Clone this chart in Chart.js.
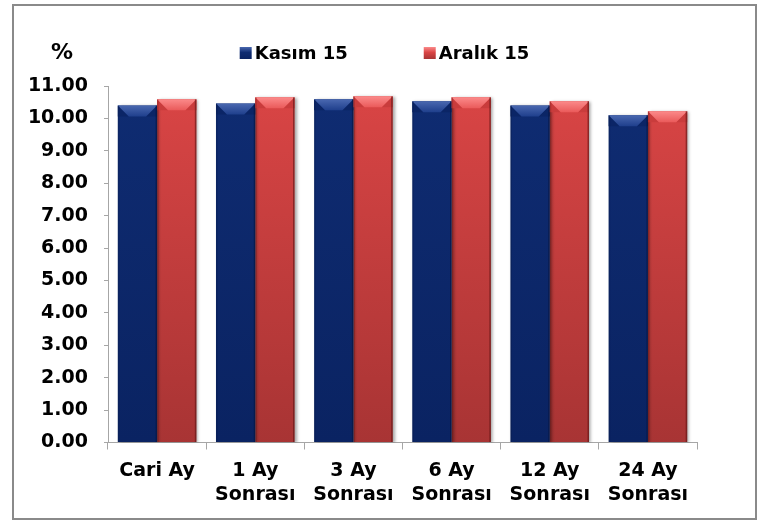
<!DOCTYPE html>
<html>
<head>
<meta charset="utf-8">
<script src="https://cdn.jsdelivr.net/npm/chart.js@4/dist/chart.umd.min.js"></script>
<style>
  html, body { margin: 0; padding: 0; background: #fff; }
  #wrap { position: relative; width: 767px; height: 522px; }
  #frame { position: absolute; left: 12px; top: 4px; width: 741px; height: 512px; border: 2px solid #8a8a8a; pointer-events: none; }
  canvas { position: absolute; left: 0; top: 0; }
</style>
</head>
<body>
<div id="wrap">
  <canvas id="myChart" width="767" height="522"></canvas>
  <div id="frame"></div>
</div>
<script>
// data
const categories = [
  "Cari Ay",
  ["1 Ay", "Sonrası"],
  ["3 Ay", "Sonrası"],
  ["6 Ay", "Sonrası"],
  ["12 Ay", "Sonrası"],
  ["24 Ay", "Sonrası"],
];
const seriesNames = ["Kasım 15", "Aralık 15"];
const kasim = [10.40, 10.46, 10.59, 10.53, 10.40, 10.10];
const aralik = [10.59, 10.65, 10.68, 10.65, 10.53, 10.22];
const yTicks = [0, 1, 2, 3, 4, 5, 6, 7, 8, 9, 10, 11];
const unitLabel = "%";

const FONT = "'DejaVu Sans', Verdana, sans-serif";

const palette = [
  { top: "#0f2c72", bottom: "#0a2362", face: "#4a68b0", faceEnd: "#1f3f8c", side: "#0b2566", edge: "#061640" },
  { top: "#da4545", bottom: "#a83434", face: "#fb8a8a", faceEnd: "#ea5a5a", side: "#c93c3c", edge: "#5e1414" },
];

function bodyGradient(idx) {
  return function (context) {
    const chart = context.chart;
    const area = chart.chartArea;
    if (!area) return palette[idx].top;
    const g = chart.ctx.createLinearGradient(0, area.top, 0, area.bottom);
    g.addColorStop(0, palette[idx].top);
    g.addColorStop(1, palette[idx].bottom);
    return g;
  };
}

// bevel look on top of each bar
const bevelPlugin = {
  id: "bevel",
  beforeDatasetsDraw(chart) {
    const ctx = chart.ctx;
    ctx.save();
    ctx.shadowColor = "rgba(0,0,0,0.35)";
    ctx.shadowBlur = 3;
    ctx.shadowOffsetX = 2;
    ctx.shadowOffsetY = 1;
  },
  afterDatasetsDraw(chart) {
    const ctx = chart.ctx;
    ctx.restore();
    chart.data.datasets.forEach(function (ds, i) {
      const meta = chart.getDatasetMeta(i);
      const col = palette[i];
      meta.data.forEach(function (bar) {
        const p = bar.getProps(["x", "y", "base", "width"], true);
        const left = p.x - p.width / 2;
        const right = p.x + p.width / 2;
        const b = Math.min(11, p.width / 3);
        ctx.save();
        // side triangles
        ctx.fillStyle = col.side;
        ctx.beginPath();
        ctx.moveTo(left, p.y);
        ctx.lineTo(left + b, p.y + b);
        ctx.lineTo(left, p.y + b);
        ctx.closePath();
        ctx.fill();
        ctx.beginPath();
        ctx.moveTo(right, p.y);
        ctx.lineTo(right - b, p.y + b);
        ctx.lineTo(right, p.y + b);
        ctx.closePath();
        ctx.fill();
        // top face
        const g = ctx.createLinearGradient(0, p.y, 0, p.y + b);
        g.addColorStop(0, col.face);
        g.addColorStop(1, col.faceEnd);
        ctx.fillStyle = g;
        ctx.beginPath();
        ctx.moveTo(left, p.y);
        ctx.lineTo(right, p.y);
        ctx.lineTo(right - b, p.y + b);
        ctx.lineTo(left + b, p.y + b);
        ctx.closePath();
        ctx.fill();
        // edges
        ctx.fillStyle = col.edge;
        ctx.globalAlpha = 0.6;
        ctx.fillRect(right - 1.5, p.y, 1.5, p.base - p.y);
        ctx.globalAlpha = 0.25;
        ctx.fillRect(left, p.y, 1.5, p.base - p.y);
        ctx.restore();
      });
    });
  },
};

// legend and the % label above the axis
const legendPlugin = {
  id: "customLegend",
  afterDraw(chart) {
    const ctx = chart.ctx;
    const area = chart.chartArea;
    const y = 53;
    ctx.save();
    ctx.font = "bold 22px " + FONT;
    ctx.fillStyle = "#000";
    ctx.textBaseline = "middle";
    ctx.textAlign = "center";
    ctx.fillText(unitLabel, 62, y);

    ctx.font = "bold 18px " + FONT;
    ctx.textAlign = "left";
    const box = 12, gapText = 3, gapItem = 76;
    const widths = seriesNames.map(function (n) { return box + gapText + ctx.measureText(n).width; });
    const total = widths.reduce(function (a, w) { return a + w; }, 0) + gapItem * (seriesNames.length - 1);
    let x = (area.left + area.right) / 2 - 18 - total / 2;
    seriesNames.forEach(function (name, i) {
      const col = palette[i];
      const g = ctx.createLinearGradient(0, y - box / 2, 0, y + box / 2);
      g.addColorStop(0, col.face);
      g.addColorStop(0.45, col.top);
      g.addColorStop(1, col.bottom);
      ctx.fillStyle = g;
      ctx.fillRect(x, y - box / 2, box, box);
      ctx.fillStyle = "#000";
      ctx.fillText(name, x + box + gapText, y + 1);
      x += widths[i] + gapItem;
    });
    ctx.restore();
  },
};

const ctx = document.getElementById("myChart");

new Chart(ctx, {
  type: "bar",
  data: {
    labels: categories,
    datasets: [
      {
        label: seriesNames[0],
        data: kasim,
        backgroundColor: bodyGradient(0),
        borderWidth: 0,
      },
      {
        label: seriesNames[1],
        data: aralik,
        backgroundColor: bodyGradient(1),
        borderWidth: 0,
      },
    ],
  },
  options: {
    responsive: false,
    animation: false,
    devicePixelRatio: 1,
    layout: {
      padding: { left: 20, right: 70, top: 86, bottom: 15 },
    },
    datasets: {
      bar: { categoryPercentage: 0.8, barPercentage: 1.0 },
    },
    plugins: {
      legend: { display: false },
      tooltip: { enabled: false },
    },
    scales: {
      x: {
        grid: {
          offset: true,
          drawOnChartArea: false,
          drawTicks: true,
          tickLength: 7,
          color: "#a6a6a6",
        },
        border: { color: "#a6a6a6", width: 1 },
        ticks: {
          padding: 10,
          color: "#000",
          font: { family: FONT, size: 19, weight: "bold", lineHeight: 1.25 },
          maxRotation: 0,
          autoSkip: false,
        },
        afterFit(scale) { scale.height = 64.5; },
      },
      y: {
        min: yTicks[0],
        max: yTicks[yTicks.length - 1],
        afterBuildTicks(scale) {
          scale.ticks = yTicks.map(function (v) { return { value: v }; });
        },
        grid: {
          drawOnChartArea: false,
          drawTicks: true,
          tickLength: 4,
          color: "#a6a6a6",
        },
        border: { color: "#a6a6a6", width: 1 },
        ticks: {
          padding: 16,
          color: "#000",
          font: { family: FONT, size: 19, weight: "bold" },
          callback: function (v) { return Number(v).toFixed(2); },
        },
        afterFit(scale) { scale.width = 88; },
      },
    },
  },
  plugins: [bevelPlugin, legendPlugin],
});
</script>
</body>
</html>
